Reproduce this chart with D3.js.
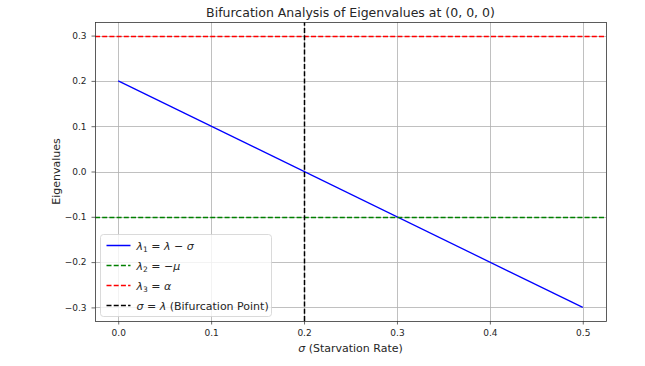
<!DOCTYPE html>
<html>
<head>
<meta charset="utf-8">
<script src="https://cdn.jsdelivr.net/npm/d3@7"></script>
<style>
  body { margin: 0; background: #fff; }
  text { font-family: "DejaVu Sans", sans-serif; fill: #262626; }
</style>
</head>
<body>
<div id="chart"></div>
<script>
// data
var sigma = [0.0, 0.5];
var lambda1 = [0.2, -0.3];
var lambda2 = -0.1;
var lambda3 = 0.3;
var bifurcation = 0.2;
var xTicks = [0.0, 0.1, 0.2, 0.3, 0.4, 0.5];
var yTicks = [-0.3, -0.2, -0.1, 0.0, 0.1, 0.2, 0.3];

var width = 645, height = 366;
var margin = { left: 95, right: 39, top: 22, bottom: 45 };

var svg = d3.select('#chart').append('svg')
    .attr('width', width)
    .attr('height', height);

var x = d3.scaleLinear().domain([-0.025, 0.525]).range([margin.left, width - margin.right]);
var y = d3.scaleLinear().domain([-0.33, 0.33]).range([height - margin.bottom, margin.top]);

// snap to pixel centres so thin lines stay crisp
function px(v) { return Math.round(v) + 0.5; }

// grid
svg.append('g').selectAll('line').data(xTicks).enter().append('line')
    .attr('x1', function (d) { return px(x(d)); }).attr('x2', function (d) { return px(x(d)); })
    .attr('y1', y.range()[1]).attr('y2', y.range()[0])
    .attr('stroke', '#b0b0b0').attr('stroke-width', 0.8);
svg.append('g').selectAll('line').data(yTicks).enter().append('line')
    .attr('y1', function (d) { return px(y(d)); }).attr('y2', function (d) { return px(y(d)); })
    .attr('x1', x.range()[0]).attr('x2', x.range()[1])
    .attr('stroke', '#b0b0b0').attr('stroke-width', 0.8);

// axes
var fmt = function (d) { return d3.format('.1f')(d).replace('-', '\u2212'); };
var xAxis = svg.append('g')
    .attr('transform', 'translate(0,' + (height - margin.bottom) + ')')
    .call(d3.axisBottom(x).tickValues(xTicks).tickFormat(fmt).tickSizeOuter(0).tickSize(3.5).tickPadding(5));
var yAxis = svg.append('g')
    .attr('transform', 'translate(' + margin.left + ',0)')
    .call(d3.axisLeft(y).tickValues(yTicks).tickFormat(fmt).tickSizeOuter(0).tickSize(3.5).tickPadding(5));
[xAxis, yAxis].forEach(function (a) {
    a.select('.domain').remove();
    a.selectAll('.tick line').attr('stroke', '#444').attr('stroke-width', 0.8);
    a.selectAll('.tick text').style('font-size', '9px').attr('fill', '#333');
});

// lines, in plotting order
var line = d3.line()
    .x(function (d, i) { return x(sigma[i]); })
    .y(function (d) { return y(d); });

svg.append('path')
    .datum(lambda1)
    .attr('d', line)
    .attr('fill', 'none')
    .attr('stroke', '#0000ff')
    .attr('stroke-width', 1.3);
svg.append('line')
    .attr('x1', x.range()[0]).attr('x2', x.range()[1])
    .attr('y1', px(y(lambda2))).attr('y2', px(y(lambda2)))
    .attr('stroke', '#008000').attr('stroke-width', 1.5).attr('stroke-dasharray', '5,2.2');
svg.append('line')
    .attr('x1', x.range()[0]).attr('x2', x.range()[1])
    .attr('y1', px(y(lambda3))).attr('y2', px(y(lambda3)))
    .attr('stroke', '#ff0000').attr('stroke-width', 1.5).attr('stroke-dasharray', '5,2.2');
svg.append('line')
    .attr('x1', px(x(bifurcation))).attr('x2', px(x(bifurcation)))
    .attr('y1', y.range()[0]).attr('y2', y.range()[1])
    .attr('stroke', '#000').attr('stroke-width', 1.5).attr('stroke-dasharray', '5,2.2');

// frame
svg.append('rect')
    .attr('x', x.range()[0] + 0.5).attr('y', y.range()[1] + 0.5)
    .attr('width', x.range()[1] - x.range()[0])
    .attr('height', y.range()[0] - y.range()[1])
    .attr('fill', 'none').attr('stroke', '#333').attr('stroke-width', 0.8);

// title and labels
svg.append('text')
    .attr('x', (x.range()[0] + x.range()[1]) / 2).attr('y', 17)
    .attr('text-anchor', 'middle').style('font-size', '12.5px')
    .text('Bifurcation Analysis of Eigenvalues at (0, 0, 0)');

var xl = svg.append('text')
    .attr('x', (x.range()[0] + x.range()[1]) / 2).attr('y', 352)
    .attr('text-anchor', 'middle').style('font-size', '11px');
xl.append('tspan').style('font-style', 'italic').text('\u03c3');
xl.append('tspan').text(' (Starvation Rate)');

svg.append('text')
    .attr('transform', 'translate(60,' + ((y.range()[0] + y.range()[1]) / 2) + ') rotate(-90)')
    .attr('text-anchor', 'middle').style('font-size', '11px')
    .text('Eigenvalues');

// legend
var legendItems = [
    { color: '#0000ff', dash: null, parts: [['\u03bb', 'i'], ['1', 's'], [' = ', 'n'], ['\u03bb', 'i'], [' \u2212 ', 'n'], ['\u03c3', 'i']] },
    { color: '#008000', dash: '5,2.2', parts: [['\u03bb', 'i'], ['2', 's'], [' = \u2212', 'n'], ['\u03bc', 'i']] },
    { color: '#ff0000', dash: '5,2.2', parts: [['\u03bb', 'i'], ['3', 's'], [' = ', 'n'], ['\u03b1', 'i']] },
    { color: '#000000', dash: '5,2.2', parts: [['\u03c3', 'i'], [' = ', 'n'], ['\u03bb', 'i'], [' (Bifurcation Point)', 'n']] }
];

var lg = svg.append('g').attr('transform', 'translate(100.5,234.5)');
lg.append('rect')
    .attr('width', 171).attr('height', 82).attr('rx', 3)
    .attr('fill', '#fff').attr('fill-opacity', 0.8)
    .attr('stroke', '#d0d0d0').attr('stroke-width', 0.8);

var entries = lg.selectAll('g.entry').data(legendItems).enter().append('g')
    .attr('class', 'entry')
    .attr('transform', function (d, i) { return 'translate(0,' + (11 + i * 20) + ')'; });
entries.append('line')
    .attr('x1', 6).attr('x2', 30)
    .attr('stroke', function (d) { return d.color; })
    .attr('stroke-width', 1.5)
    .attr('stroke-dasharray', function (d) { return d.dash; });
entries.append('text')
    .attr('x', 36).attr('y', 4)
    .style('font-size', '11px')
    .each(function (d) {
        var t = d3.select(this);
        var prevSub = false;
        d.parts.forEach(function (p) {
            var s = t.append('tspan').text(p[0]);
            if (p[1] === 'i') s.style('font-style', 'italic');
            if (p[1] === 's') { s.style('font-size', '7.5px').attr('dy', 2); prevSub = true; }
            else if (prevSub) { s.attr('dy', -2); prevSub = false; }
        });
    });
</script>
</body>
</html>
